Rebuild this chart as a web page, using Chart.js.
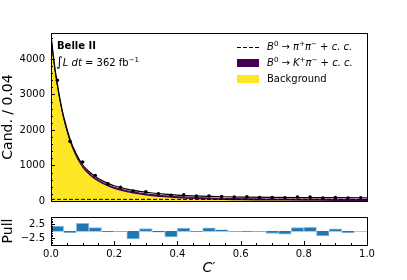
<!DOCTYPE html>
<html>
<head>
<meta charset="utf-8">
<script src="https://cdn.jsdelivr.net/npm/chart.js@4/dist/chart.umd.min.js"></script>
<style>
  body { margin: 0; background: #fff; }
  #wrap { position: relative; width: 407px; height: 280px; font-family: 'DejaVu Sans', sans-serif; color: #000; }
  canvas { position: absolute; left: 0; }
  .txt { position: absolute; font-size: 10px; line-height: 12px; white-space: nowrap; }
  .it { font-style: italic; }
  sup { font-size: 7px; vertical-align: 4px; line-height: 0; }
  .patch { position: absolute; width: 22px; height: 8px; }
</style>
</head>
<body>
<div id="wrap">
  <canvas id="mainChart" width="407" height="213" style="top:0"></canvas>
  <canvas id="pullChart" width="407" height="75" style="top:205px"></canvas>

  <div class="txt" style="left:57px; top:40px; font-weight:bold;">Belle II</div>
  <div class="txt" style="left:56px; top:56px;"><span style="font-size:13px">∫</span><span class="it">L</span> <span class="it">dt</span> = 362 fb<sup>−1</sup></div>

  <div style="position:absolute; left:237px; top:47px; width:22px; height:1px; background:repeating-linear-gradient(to right,#000 0 4px,transparent 4px 6px);"></div>
  <div class="txt" style="left:267px; top:41px;"><span class="it">B</span><sup>0</sup> → <span class="it">π</span><sup>+</sup><span class="it">π</span><sup>−</sup> + <span class="it">c. c.</span></div>
  <div class="patch" style="left:237px; top:59px; background:#440154;"></div>
  <div class="txt" style="left:267px; top:57px;"><span class="it">B</span><sup>0</sup> → <span class="it">K</span><sup>+</sup><span class="it">π</span><sup>−</sup> + <span class="it">c. c.</span></div>
  <div class="patch" style="left:237px; top:75px; background:#fde725;"></div>
  <div class="txt" style="left:267px; top:73px;">Background</div>
</div>
<script>
// bin centres (width 0.04) and data counts
const binCentres = [0.02, 0.06, 0.10, 0.14, 0.18, 0.22, 0.26, 0.30, 0.34, 0.38, 0.42, 0.46, 0.50,
                    0.54, 0.58, 0.62, 0.66, 0.70, 0.74, 0.78, 0.82, 0.86, 0.90, 0.94, 0.98];
const dataCounts = [3400, 1680, 1100, 720, 490, 385, 280, 262, 205, 160, 172, 142, 140,
                    125, 112, 115, 100, 95, 90, 110, 108, 80, 100, 85, 92];
const pulls = [1.8, -0.6, 2.7, 1.2, -0.3, -0.1, -2.8, 0.9, -0.4, -2.1, 1.0, -0.2, 1.1,
               0.4, -0.1, -0.2, -0.1, -0.9, -1.1, 1.2, 1.3, -1.8, 0.8, -0.7, 0.0];

// fit curves
const curveX     = [0, 0.01, 0.02, 0.03, 0.04, 0.06, 0.08, 0.10, 0.12, 0.14, 0.16, 0.18, 0.20,
                    0.24, 0.28, 0.32, 0.36, 0.40, 0.45, 0.50, 0.55, 0.60, 0.70, 0.80, 0.90, 1.00];
const totalFit   = [4670, 3900, 3300, 2800, 2380, 1750, 1320, 1020, 830, 690, 580, 495, 430,
                    335, 272, 226, 193, 168, 146, 130, 119, 111, 101, 96, 93, 91];
const kpiTop     = [4625, 3855, 3255, 2755, 2335, 1705, 1275, 975, 785, 645, 535, 450, 385,
                    290, 227, 181, 148, 123, 101, 85, 74, 66, 56, 51, 48, 46];
const background = [4580, 3810, 3210, 2710, 2290, 1660, 1230, 930, 740, 600, 490, 405, 340,
                    245, 182, 136, 103, 78, 56, 40, 29, 21, 11, 6, 3, 1];
const pipiFit    = [46, 46, 46, 46, 46, 46, 46, 46, 46, 46, 46, 46, 46,
                    46, 46, 46, 46, 46, 46, 46, 46, 46, 46, 46, 46, 46];

const yTicksMain = [0, 1000, 2000, 3000, 4000];
const yTicksPull = [-2.5, 2.5];

Chart.defaults.font.family = "'DejaVu Sans', sans-serif";
Chart.defaults.color = '#000';
Chart.defaults.animation = false;

const pts = (xs, ys) => xs.map((x, i) => ({ x: x, y: ys[i] }));

// frame + inward ticks, matplotlib style
function framePlugin(minorY, minorX, tickX) {
    return {
        id: 'frame',
        afterDraw(chart) {
            const a = chart.chartArea, ctx = chart.ctx;
            const xs = chart.scales.x, ys = chart.scales.y;
            ctx.save();
            ctx.strokeStyle = '#000';
            ctx.lineWidth = 1;
            ctx.beginPath();
            const start = Math.ceil(ys.min / minorY) * minorY;
            for (let v = start; v <= ys.max + 1e-9; v += minorY) {
                const y = Math.round(ys.getPixelForValue(v)) + 0.5;
                const major = ys.ticks.some(t => Math.abs(t.value - v) < 1e-6);
                ctx.moveTo(a.left, y); ctx.lineTo(a.left + (major ? 4 : 2), y);
            }
            if (tickX) {
                for (let v = 0; v <= 1.0001; v += minorX) {
                    const x = Math.round(xs.getPixelForValue(v)) + 0.5;
                    const major = Math.abs(v / 0.2 - Math.round(v / 0.2)) < 1e-6;
                    ctx.moveTo(x, a.bottom); ctx.lineTo(x, a.bottom - (major ? 4 : 2));
                }
            }
            ctx.stroke();
            ctx.strokeRect(Math.round(a.left) + 0.5, Math.round(a.top) + 0.5,
                           Math.round(a.right - a.left), Math.round(a.bottom - a.top));
            ctx.restore();
        }
    };
}

const zeroLine = {
    id: 'zeroLine',
    beforeDatasetsDraw(chart) {
        const a = chart.chartArea, ctx = chart.ctx;
        const y = Math.round(chart.scales.y.getPixelForValue(0)) + 0.5;
        ctx.save();
        ctx.strokeStyle = '#a9cbe6';
        ctx.lineWidth = 1;
        ctx.beginPath(); ctx.moveTo(a.left, y); ctx.lineTo(a.right, y); ctx.stroke();
        ctx.restore();
    }
};

new Chart(document.getElementById('mainChart'), {
    type: 'line',
    data: {
        datasets: [
            { data: pts(binCentres, dataCounts), showLine: false, pointRadius: 1.8,
              pointBackgroundColor: '#000', pointBorderWidth: 0 },
            { data: pts(curveX, totalFit), borderColor: '#000', borderWidth: 1.2,
              pointRadius: 0, cubicInterpolationMode: 'monotone', fill: false },
            { data: pts(curveX, pipiFit), borderColor: '#000', borderWidth: 1,
              borderDash: [4, 2], pointRadius: 0, fill: false },
            { data: pts(curveX, kpiTop), borderColor: '#440154', borderWidth: 1,
              backgroundColor: '#440154', pointRadius: 0, cubicInterpolationMode: 'monotone',
              fill: { target: 4 } },
            { data: pts(curveX, background), borderColor: '#fde725', borderWidth: 1,
              backgroundColor: '#fde725', pointRadius: 0, cubicInterpolationMode: 'monotone',
              fill: 'origin' }
        ]
    },
    options: {
        responsive: false,
        devicePixelRatio: 1,
        layout: { padding: { left: 0, right: 40, top: 33, bottom: 0 } },
        plugins: { legend: { display: false }, tooltip: { enabled: false } },
        scales: {
            x: {
                type: 'linear', min: 0, max: 1,
                grid: { display: false }, border: { display: false },
                ticks: { display: false },
                afterFit: s => { s.height = 6; }
            },
            y: {
                min: 0, max: 4730,
                grid: { display: false, drawTicks: false }, border: { display: false },
                afterBuildTicks: s => { s.ticks = yTicksMain.map(v => ({ value: v })); },
                ticks: { padding: 6, font: { size: 10 }, color: '#000',
                         callback: v => String(v) },
                title: { display: true, text: 'Cand. / 0.04', font: { size: 14 }, color: '#000',
                         padding: { top: 0, bottom: 0 } },
                afterFit: s => { s.width = 51; }
            }
        }
    },
    plugins: [framePlugin(200, 0.05, false)]
});

new Chart(document.getElementById('pullChart'), {
    type: 'bar',
    data: {
        datasets: [{
            data: pts(binCentres, pulls),
            backgroundColor: '#1f77b4',
            borderColor: '#8fbde0',
            borderWidth: 1,
            borderSkipped: 'start',
            barPercentage: 1, categoryPercentage: 1
        }]
    },
    options: {
        responsive: false,
        devicePixelRatio: 1,
        layout: { padding: { left: 0, right: 40, top: 8, bottom: 0 } },
        plugins: { legend: { display: false }, tooltip: { enabled: false } },
        scales: {
            x: {
                type: 'linear', min: 0, max: 1, offset: false,
                grid: { display: false, drawTicks: false }, border: { display: false },
                ticks: { stepSize: 0.2, padding: 3, font: { size: 10 }, color: '#000',
                         callback: v => v.toFixed(1) },
                title: { display: true, text: "C′", font: { size: 14, style: 'italic' }, color: '#000',
                         padding: { top: 0, bottom: 3 } },
                afterFit: s => { s.height = 35; }
            },
            y: {
                min: -5, max: 5,
                grid: { display: false, drawTicks: false }, border: { display: false },
                afterBuildTicks: s => { s.ticks = yTicksPull.map(v => ({ value: v })); },
                ticks: { padding: 6, font: { size: 10 }, color: '#000',
                         callback: v => (v < 0 ? '−' : '') + Math.abs(v).toFixed(1) },
                title: { display: true, text: 'Pull', font: { size: 14 }, color: '#000',
                         padding: { top: 0, bottom: 0 } },
                afterFit: s => { s.width = 51; }
            }
        }
    },
    plugins: [zeroLine, framePlugin(0.625, 0.05, true)]
});
</script>
</body>
</html>
